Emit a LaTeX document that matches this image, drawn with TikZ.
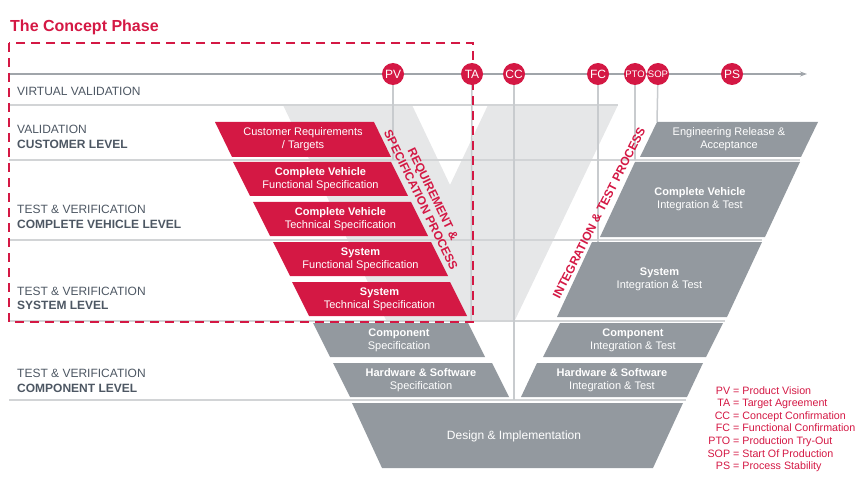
\documentclass[tikz,border=0pt]{standalone}
\usepackage{fontspec}
\setmainfont{Liberation Sans}
\usetikzlibrary{arrows.meta}
\definecolor{vred}{RGB}{212,24,68}
\definecolor{boxgrey}{RGB}{147,153,159}
\definecolor{vlight}{RGB}{230,231,232}
\definecolor{rowgrey}{RGB}{210,212,214}
\definecolor{msgrey}{RGB}{200,203,206}
\definecolor{tlgrey}{RGB}{160,165,170}
\definecolor{lblgrey}{RGB}{77,87,99}
\newcommand\pgram[8]{%
  \fill[#7] (#2,#3) -- ++(#4,0) -- ++(#6,#5) -- ++(-#4,0) -- cycle;
  \node[boxtxt] (#1) at ({#2+0.5*#4+0.5*(#6)},{#3+0.5*#5}) {#8};}
\begin{document}
\begin{tikzpicture}[x=1pt,y=-1pt,
  boxtxt/.style={text=white,align=center,inner sep=0pt,font=\fontsize{11}{13.3}\selectfont},
  lbl/.style={anchor=base west,inner sep=0pt,text=lblgrey,font=\fontsize{12}{14}\selectfont},
  lblb/.style={lbl,font=\fontsize{12}{14}\selectfont\bfseries},
  ms/.style={circle,fill=vred,text=white,minimum size=22pt,inner sep=0pt,font=\fontsize{12}{12}\selectfont},
  mssmall/.style={ms,font=\fontsize{9.5}{9.5}\selectfont},
  vline/.style={draw=msgrey,line width=1.5pt},
  rowline/.style={draw=rowgrey,line width=1.5pt},
  timeline/.style={draw=tlgrey,line width=1.5pt,-{Stealth[length=7pt,width=5pt]}},
  proc/.style={text=vred,align=center,inner sep=0pt,font=\fontsize{12}{13.5}\selectfont\bfseries},
  leg/.style={anchor=base west,inner sep=0pt,text=vred,font=\fontsize{10.7}{12}\selectfont}
]
\useasboundingbox (0,0) rectangle (868,500);
% background V
\fill[vlight] (283,105) -- (412,105) -- (450,185) -- (488,105) -- (618,105) -- (515,320) -- (386,320) -- cycle;
% row lines
\draw[rowline] (9,105) -- (618,105);
\draw[rowline] (9,160) -- (800,160);
\draw[rowline] (9,240) -- (762,240);
\draw[rowline] (9,321) -- (725,321);
\draw[rowline] (9,400) -- (686,400);
% milestone coordinates
\coordinate (PVc) at (393,74);
\coordinate (TAc) at (472,74);
\coordinate (CCc) at (514,74);
\coordinate (FCc) at (598,74);
\coordinate (PTOc) at (635,74);
\coordinate (SOPc) at (658,74);
\coordinate (PSc) at (732,74);
\coordinate (PVend) at (393,160);
\coordinate (TAend) at (471,321);
\coordinate (CCend) at (514,400);
\coordinate (FCend) at (598,242);
\coordinate (PTOend) at (635,160);
\coordinate (SOPend) at (657,122);
\coordinate (tl0) at (9,74);
\coordinate (tl1) at (807,74);
\draw[vline] (PVc) -- (PVend);
\draw[vline] (TAc) -- (TAend);
\draw[vline] (CCc) -- (CCend);
\draw[vline] (FCc) -- (FCend);
\draw[vline] (PTOc) -- (PTOend);
\draw[vline] (SOPc) -- (SOPend);
\draw[timeline] (tl0) -- (tl1);
% left boxes
\pgram{b1}{215}{122}{159}{35}{17}{vred}{Customer Requirements\\/ Targets}
\pgram{b2}{233}{162}{158}{34}{17}{vred}{\textbf{Complete Vehicle}\\Functional Specification}
\pgram{b3}{253}{202}{158}{34}{17}{vred}{\textbf{Complete Vehicle}\\Technical Specification}
\pgram{b4}{273}{242}{158}{34}{17}{vred}{\textbf{System}\\Functional Specification}
\pgram{b5}{292}{282}{158}{34}{17}{vred}{\textbf{System}\\Technical Specification}
\pgram{b6}{313}{323}{155}{34}{17}{boxgrey}{\textbf{Component}\\Specification}
\pgram{b7}{333}{363}{159}{34}{17}{boxgrey}{\textbf{Hardware \& Software}\\Specification}
% right boxes
\pgram{r1}{657}{122}{161}{35}{-17}{boxgrey}{Engineering Release \&\\Acceptance}
\pgram{r2}{635}{162}{165}{75}{-35}{boxgrey}{\textbf{Complete Vehicle}\\Integration \& Test}
\pgram{r3}{592}{242}{170}{75}{-35}{boxgrey}{\textbf{System}\\Integration \& Test}
\pgram{r4}{560}{323}{163}{34}{-17}{boxgrey}{\textbf{Component}\\Integration \& Test}
\pgram{r5}{537}{363}{166}{34}{-16}{boxgrey}{\textbf{Hardware \& Software}\\Integration \& Test}
% design
\fill[boxgrey] (352,403) -- (683,403) -- (653,468) -- (382,468) -- cycle;
\node[boxtxt,font=\fontsize{12}{14}\selectfont] (design) at (514,436) {Design \& Implementation};
% process labels
\node[proc,rotate=-64] (reqproc) at (427,197) {REQUIREMENT \&\\SPECIFICATION PROCESS};
\node[proc,rotate=63] (intproc) at (599,213) {INTEGRATION \& TEST PROCESS};
% concept phase frame
\draw[vred,line width=2pt,dash pattern=on 9pt off 6pt] (9,43) rectangle (473,322);
% milestones
\node[ms] (PV) at (PVc) {PV};
\node[ms] (TA) at (TAc) {TA};
\node[ms] (CC) at (CCc) {CC};
\node[ms] (FC) at (FCc) {FC};
\node[mssmall] (PTO) at (PTOc) {PTO};
\node[mssmall] (SOP) at (SOPc) {SOP};
\node[ms] (PS) at (PSc) {PS};
\node[anchor=base west,inner sep=0pt,text=vred,font=\fontsize{16}{16}\selectfont\bfseries] (title) at (10,32) {The Concept Phase};
% left labels
\node[lbl] (l1) at (17,95.7) {VIRTUAL VALIDATION};
\node[lbl] (l2) at (17,134) {VALIDATION};
\node[lblb] (l3) at (17,148.7) {CUSTOMER LEVEL};
\node[lbl] (l4) at (17,213.3) {TEST \& VERIFICATION};
\node[lblb] (l5) at (17,228) {COMPLETE VEHICLE LEVEL};
\node[lbl] (l6) at (17,295) {TEST \& VERIFICATION};
\node[lblb] (l7) at (17,309) {SYSTEM LEVEL};
\node[lbl] (l8) at (17,377.7) {TEST \& VERIFICATION};
\node[lblb] (l9) at (17,392) {COMPONENT LEVEL};
% legend
\node[leg] (g1) at (704,394) {\makebox[26pt][r]{PV} = Product Vision};
\node[leg] (g2) at (704,406.6) {\makebox[26pt][r]{TA} = Target Agreement};
\node[leg] (g3) at (704,419.2) {\makebox[26pt][r]{CC} = Concept Confirmation};
\node[leg] (g4) at (704,431.8) {\makebox[26pt][r]{FC} = Functional Confirmation};
\node[leg] (g5) at (704,444.4) {\makebox[26pt][r]{PTO} = Production Try-Out};
\node[leg] (g6) at (704,457) {\makebox[26pt][r]{SOP} = Start Of Production};
\node[leg] (g7) at (704,469.6) {\makebox[26pt][r]{PS} = Process Stability};
\end{tikzpicture}
\end{document}
